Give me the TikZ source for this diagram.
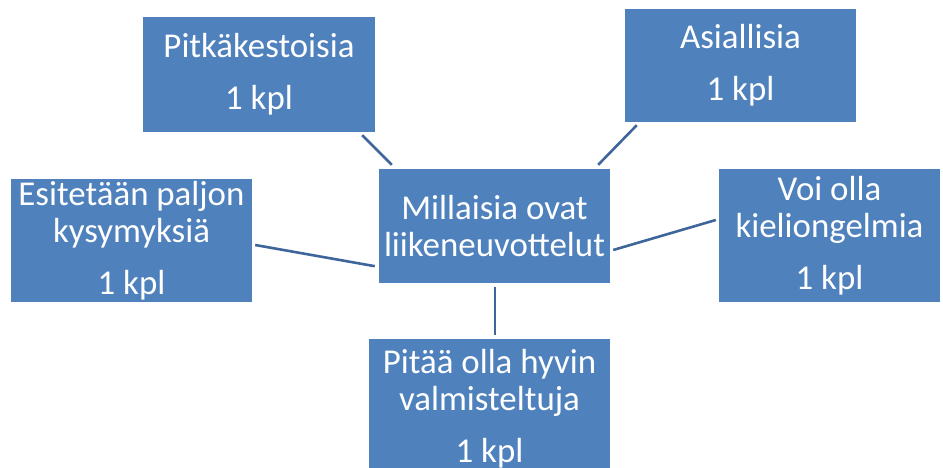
\documentclass[tikz,border=0pt]{standalone}
\usepackage{fontspec}
\setmainfont{Carlito}
\definecolor{boxblue}{HTML}{4F81BD}
\definecolor{linkblue}{RGB}{62,102,154}
\begin{document}
\begin{tikzpicture}[x=1bp,y=-1bp,
  topic/.style={fill=boxblue, text=white, align=center, inner sep=0pt,
    font=\fontsize{35}{37}\selectfont},
  link/.style={draw=linkblue, line width=2.6bp}]
\useasboundingbox (0,0) rectangle (943,468);
\clip (0,0) rectangle (943,468);

% boxes
\node[topic, minimum width=232bp, minimum height=115bp] (pit) at (259,74.5)
  {Pitkäkestoisia\\[15bp]1 kpl};
\node[topic, minimum width=231bp, minimum height=113bp] (asi) at (740.5,65.5)
  {Asiallisia\\[15bp]1 kpl};
\node[topic, minimum width=241bp, minimum height=123bp] (esi) at (131.5,240.5)
  {Esitetään paljon\\kysymyksiä\\[15bp]1 kpl};
\node[topic, minimum width=231bp, minimum height=114bp] (mid) at (494.5,226)
  {Millaisia ovat\\liikeneuvottelut};
\node[topic, minimum width=221bp, minimum height=133bp] (voi) at (829.5,235.5)
  {Voi olla\\kieliongelmia\\[15bp]1 kpl};
\node[topic, minimum width=241bp, minimum height=139bp, anchor=north] (val) at (489.5,339)
  {Pitää olla hyvin\\valmisteltuja\\[15bp]1 kpl};

% connectors
\draw[link] ([shift={(-13,3)}]pit.south east) -- ([shift={(13,-4)}]mid.north west);
\draw[link] ([shift={(12,3)}]asi.south west) -- ([shift={(-12,-4)}]mid.north east);
\draw[link] ([shift={(3,4.5)}]esi.east) -- ([shift={(-4,-17)}]mid.south west);
\draw[link] ([shift={(3,24)}]mid.east) -- ([shift={(-3,-15.5)}]voi.west);
\draw[link] ([shift={(0.5,4)}]mid.south) -- ([shift={(0.5,-4)}]mid.south |- val.north);
\end{tikzpicture}
\end{document}
